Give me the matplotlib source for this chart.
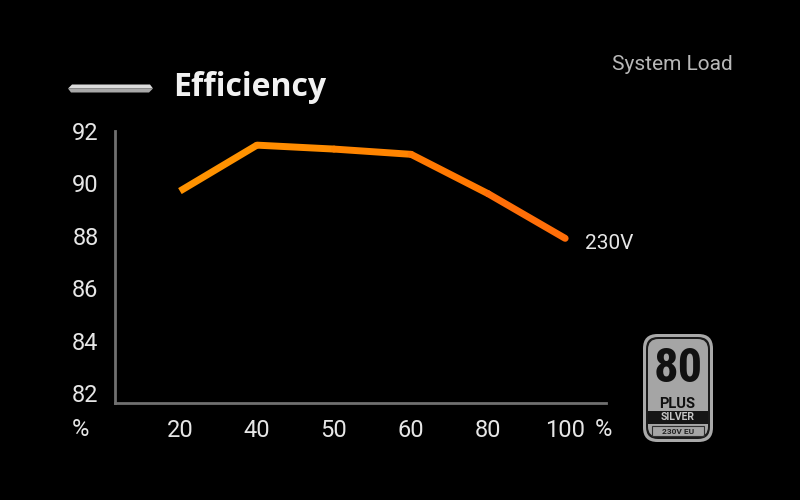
import matplotlib
matplotlib.use('Agg')
import matplotlib.pyplot as plt
from matplotlib.patches import FancyBboxPatch, Polygon, Rectangle

# data
load_labels = ['20', '40', '50', '60', '80', '100']
efficiency_230v = [89.7, 91.45, 91.3, 91.1, 89.6, 87.9]
y_ticks = [82, 84, 86, 88, 90, 92]
segment_colors = ['#ff9200', '#ff8c00', '#ff8400', '#ff7800', '#ff6e08']

plt.rcParams['font.family'] = ['Roboto', 'DejaVu Sans']

fig = plt.figure(figsize=(8, 5), dpi=100, facecolor='black')
ax = fig.add_axes([0.144, 0.1946, 0.6135, 0.544])
ax.set_facecolor('black')

x = list(range(len(load_labels)))
for i in range(len(x) - 1):
    ax.plot(x[i:i + 2], efficiency_230v[i:i + 2], color=segment_colors[i], linewidth=5,
            solid_capstyle='round' if 0 < i else 'butt')
ax.text(x[-1] + 0.26, efficiency_230v[-1] - 0.2, '230V', color='#e6e6e6',
        fontsize=15, va='center', ha='left')

ax.set_xlim(-0.84, 5.53)
ax.set_ylim(81.64, 92)
ax.set_xticks(x)
ax.set_xticklabels(load_labels)
ax.set_yticks(y_ticks)
ax.tick_params(axis='both', length=0, colors='#e6e6e6', labelsize=17)
ax.tick_params(axis='y', pad=12)
ax.tick_params(axis='x', pad=12)

for side in ['top', 'right']:
    ax.spines[side].set_visible(False)
for side in ['left', 'bottom']:
    ax.spines[side].set_color('#707070')
    ax.spines[side].set_linewidth(2)


def fx(px):
    return px / 800


def fy(py):
    return 1 - py / 500


# unit markers
fig.text(fx(80), fy(429), '%', color='#e6e6e6', fontsize=17, ha='center', va='center')
fig.text(fx(603), fy(429), '%', color='#e6e6e6', fontsize=17, ha='center', va='center')

# title with decorative bar
fig.text(fx(173), fy(88), 'Efficiency', color='#f2f2f2', fontsize=23,
         fontweight='bold', family=['Open Sans', 'DejaVu Sans'], ha='left', va='center')
bar_top = Polygon([(fx(68), fy(88.5)), (fx(72), fy(84.5)), (fx(150), fy(84.5)),
                   (fx(153), fy(88.5))], closed=True, transform=fig.transFigure,
                  facecolor='#dcdcdc', edgecolor='none')
bar_bottom = Polygon([(fx(68), fy(88.5)), (fx(71), fy(92.5)), (fx(149), fy(92.5)),
                      (fx(153), fy(88.5))], closed=True, transform=fig.transFigure,
                     facecolor='#a8a8a8', edgecolor='none')
fig.patches.extend([bar_top, bar_bottom])

fig.text(fx(733), fy(65), 'System Load', color='#b8b8b8', fontsize=15,
         ha='right', va='center')

# 80 PLUS Silver badge
outer = FancyBboxPatch((fx(643), fy(442)), fx(713) - fx(643), fy(334) - fy(442),
                       boxstyle='round,pad=0,rounding_size=0.018', transform=fig.transFigure,
                       facecolor='#a9a9a9', edgecolor='none', mutation_aspect=1.6)
inner_dark = FancyBboxPatch((fx(646), fy(439)), fx(710) - fx(646), fy(337) - fy(439),
                            boxstyle='round,pad=0,rounding_size=0.015', transform=fig.transFigure,
                            facecolor='#1a1a1a', edgecolor='none', mutation_aspect=1.6)
inner = FancyBboxPatch((fx(648), fy(437)), fx(708) - fx(648), fy(339) - fy(437),
                       boxstyle='round,pad=0,rounding_size=0.013', transform=fig.transFigure,
                       facecolor='#a5a5a5', edgecolor='none', mutation_aspect=1.6)
band = Rectangle((fx(648), fy(424)), fx(708) - fx(648), fy(411) - fy(424),
                 transform=fig.transFigure, facecolor='#151515', edgecolor='none')
eu_box = Rectangle((fx(652), fy(436)), fx(704) - fx(652), fy(426) - fy(436),
                   transform=fig.transFigure, facecolor='none', edgecolor='#303030',
                   linewidth=0.8)
fig.patches.extend([outer, inner_dark, inner, band, eu_box])

fig.text(fx(678), fy(369), '80', color='#111111', fontsize=35, fontweight='bold',
         ha='center', va='center', fontstretch='condensed',
         family=['Roboto Condensed', 'DejaVu Sans Condensed', 'DejaVu Sans'])
fig.text(fx(677), fy(403.5), 'PLUS', color='#111111', fontsize=10.5, fontweight='bold',
         ha='center', va='center')
fig.text(fx(678), fy(417.5), 'SILVER', color='#c8c8c8', fontsize=7.5, fontweight='bold',
         ha='center', va='center')
fig.text(fx(678), fy(431), '230V EU', color='#222222', fontsize=6, fontweight='bold',
         ha='center', va='center')

fig.savefig('out.png', dpi=100, facecolor='black')
